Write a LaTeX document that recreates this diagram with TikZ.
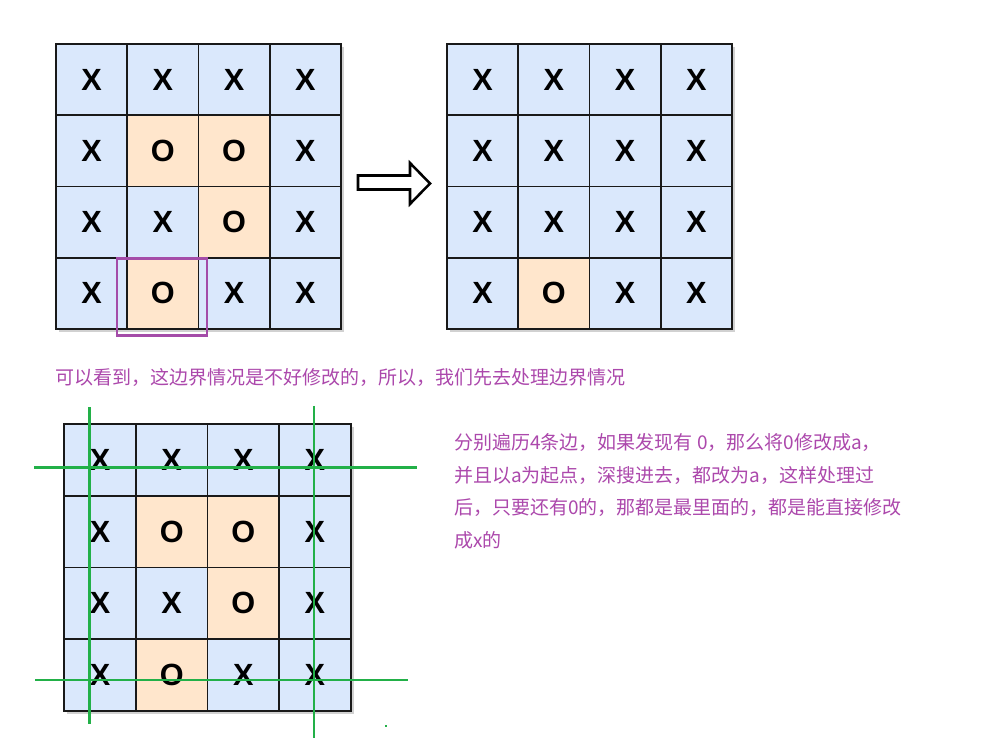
\documentclass[tikz,border=0pt]{standalone}
\usepackage{fontspec}
\setmainfont{Liberation Sans}
\newfontfamily\cjk{Noto Sans CJK SC}
\definecolor{cellblue}{HTML}{DAE8FC}
\definecolor{cellorange}{HTML}{FFE6CC}
\definecolor{txtpurple}{RGB}{172,72,172}
\definecolor{boxpurple}{RGB}{164,76,168}
\definecolor{linegreen}{RGB}{34,176,72}
\begin{document}
\begin{tikzpicture}[x=0.75pt,y=-0.75pt,
  cell/.style={draw=black!90,line width=1.4pt,minimum width=53.4pt,minimum height=53.4pt,inner sep=0pt,
    font=\fontsize{23}{23}\selectfont\bfseries,anchor=center},
  xc/.style={cell,fill=cellblue},
  oc/.style={cell,fill=cellorange},
  gshadow/.style={fill=black,opacity=0.18},
  gline/.style={draw=linegreen,line width=1.9pt},
  note/.style={text=txtpurple,font=\cjk\fontsize{14.25}{24.4}\selectfont,inner sep=0pt,align=left}]
\useasboundingbox (0,0) rectangle (996,748);
\fill[white] (0,0) rectangle (996,748);
% ---------- grid 1 ----------
\def\ga{56}\def\gb{44}\def\cs{71.25}
\fill[gshadow] (\ga+3,\gb+3) rectangle (\ga+4*\cs+3,\gb+4*\cs+3);
\foreach \r/\row in {0/{x/X,x/X,x/X,x/X},1/{x/X,o/O,o/O,x/X},2/{x/X,x/X,o/O,x/X},3/{x/X,o/O,x/X,x/X}}{
  \foreach \v/\t [count=\c from 0] in \row {
    \node[\v c] (a-\r-\c) at (\ga+\c*\cs+\cs/2,\gb+\r*\cs+\cs/2) {\t};
  }
}
\node[draw=boxpurple,line width=1.8pt,minimum width=67.5pt,minimum height=57.5pt,inner sep=0pt] (mark) at (161.7,297) {};
% ---------- arrow ----------
\coordinate (arr) at (358,182.5);
\draw[black,line width=1.9pt,fill=white,line join=miter]
  (arr) ++(0,-7) -- ++(52,0) -- ++(0,-12.5) -- ++(20,20.5) -- ++(-20,20.5) -- ++(0,-14.5) -- ++(-52,0) -- cycle;
% ---------- grid 2 ----------
\def\ha{447}\def\hb{44}
\fill[gshadow] (\ha+3,\hb+3) rectangle (\ha+4*\cs+3,\hb+4*\cs+3);
\foreach \r/\row in {0/{x/X,x/X,x/X,x/X},1/{x/X,x/X,x/X,x/X},2/{x/X,x/X,x/X,x/X},3/{x/X,o/O,x/X,x/X}}{
  \foreach \v/\t [count=\c from 0] in \row {
    \node[\v c] (b-\r-\c) at (\ha+\c*\cs+\cs/2,\hb+\r*\cs+\cs/2) {\t};
  }
}
% ---------- caption 1 ----------
\node[note,anchor=base west] (cap1) at (55,385) {可以看到，这边界情况是不好修改的，所以，我们先去处理边界情况};
% ---------- grid 3 ----------
\def\ka{64.3}\def\kb{424.3}\def\ks{71.6}
\fill[gshadow] (\ka+3,\kb+3) rectangle (\ka+4*\ks+3,\kb+4*\ks+3);
\foreach \r/\row in {0/{x/X,x/X,x/X,x/X},1/{x/X,o/O,o/O,x/X},2/{x/X,x/X,o/O,x/X},3/{x/X,o/O,x/X,x/X}}{
  \foreach \v/\t [count=\c from 0] in \row {
    \node[\v c,minimum width=53.7pt,minimum height=53.7pt] (c-\r-\c) at (\ka+\c*\ks+\ks/2,\kb+\r*\ks+\ks/2) {\t};
  }
}
% green scan lines
\coordinate (h1a) at (34,467.3); \coordinate (h1b) at (416.7,467.3);
\coordinate (h2a) at (35,680); \coordinate (h2b) at (407.7,680);
\coordinate (v1a) at (89.3,407.3); \coordinate (v1b) at (89.3,724);
\coordinate (v2a) at (314,406); \coordinate (v2b) at (314,738.3);
\draw[gline] (h1a) -- (h1b);
\draw[gline] (h2a) -- (h2b);
\draw[gline] (v1a) -- (v1b);
\draw[gline] (v2a) -- (v2b);
\fill[linegreen] (384.7,724.5) rectangle (386.9,727);
% ---------- caption 2 ----------
\node[note,anchor=base west] (cap2) at (454,547.5) {分别遍历4条边，如果发现有 0，那么将0修改成a，\\并且以a为起点，深搜进去，都改为a，这样处理过\\后，只要还有0的，那都是最里面的，都是能直接修改\\成x的};
\end{tikzpicture}
\end{document}
